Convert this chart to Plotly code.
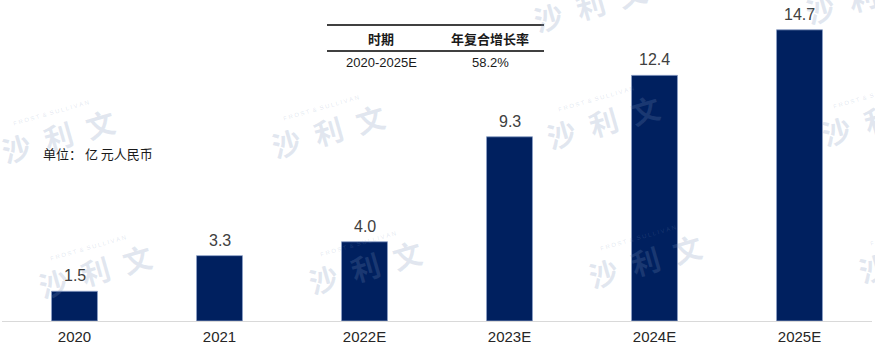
import plotly.graph_objects as go

# ---- data ----
categories = ["2020", "2021", "2022E", "2023E", "2024E", "2025E"]
values = [1.5, 3.3, 4.0, 9.3, 12.4, 14.7]
value_labels = ["1.5", "3.3", "4.0", "9.3", "12.4", "14.7"]
table_header = ["时期", "年复合增长率"]
table_row = ["2020-2025E", "58.2%"]
unit_text = "单位： 亿 元人民币"

# ---- layout constants ----
W, H = 875, 361
ML, MR, MT, MB = 2, 3, 10, 40
PW, PH = W - ML - MR, H - MT - MB
YMAX = 15.7

LATIN = "Liberation Sans, Arial, Noto Sans CJK SC, sans-serif"
CJK = "Noto Sans CJK SC, Liberation Sans, sans-serif"


def px_x(px):
    return (px - ML) / PW


def px_y(py):
    return (H - MB - py) / PH


fig = go.Figure()
fig.add_trace(go.Bar(
    x=categories, y=values,
    marker=dict(color="#00205F", line=dict(color="#8C9FC6", width=0.8)),
    width=0.317, hoverinfo="skip",
))

annotations = []
# value labels (category index positions)
for i, (v, t) in enumerate(zip(values, value_labels)):
    annotations.append(dict(
        x=i, y=v, xref="x", yref="y", text=t, showarrow=False,
        yanchor="bottom", yshift=5,
        font=dict(family=LATIN, size=16, color="#404040"),
    ))

# unit label
annotations.append(dict(
    x=px_x(41), y=px_y(153), xref="paper", yref="paper", text=unit_text,
    showarrow=False, xanchor="left", yanchor="middle",
    font=dict(family=CJK, size=13, color="#1a1a1a"),
))

# table text
col_x = [381, 490]
for cx, t in zip(col_x, table_header):
    annotations.append(dict(
        x=px_x(cx), y=px_y(39), xref="paper", yref="paper",
        text="<b>" + t + "</b>", showarrow=False,
        xanchor="center", yanchor="middle",
        font=dict(family=CJK, size=13, color="#1a1a1a"),
    ))
for cx, t in zip(col_x, table_row):
    annotations.append(dict(
        x=px_x(cx), y=px_y(63), xref="paper", yref="paper",
        text=t, showarrow=False, xanchor="center", yanchor="middle",
        font=dict(family=LATIN, size=13, color="#1a1a1a"),
    ))

# watermarks (decorative)
wm_pos = [(58, 135), (328, 130), (603, 121), (878, 118),
          (95, 270), (365, 266), (645, 260), (915, 255),
          (590, 4), (862, -4)]
wm_col = "rgba(120,145,185,0.22)"
for (wx, wy) in wm_pos:
    annotations.append(dict(
        x=px_x(wx), y=px_y(wy), xref="paper", yref="paper",
        text="<b>沙\u2002利\u2002文</b>", showarrow=False, textangle=-16,
        xanchor="center", yanchor="middle",
        font=dict(family=CJK, size=29, color=wm_col),
    ))
    annotations.append(dict(
        x=px_x(wx), y=px_y(wy), xref="paper", yref="paper",
        text="F\u00a0R\u00a0O\u00a0S\u00a0T\u00a0\u00a0&\u00a0\u00a0S\u00a0U\u00a0L\u00a0L\u00a0I\u00a0V\u00a0A\u00a0N",
        showarrow=False, textangle=-16, xshift=-7, yshift=22,
        xanchor="center", yanchor="middle",
        font=dict(family=LATIN, size=6, color=wm_col),
    ))

shapes = [
    dict(type="line", xref="paper", yref="paper",
         x0=px_x(327), x1=px_x(544), y0=px_y(25), y1=px_y(25),
         line=dict(color="#404040", width=2)),
    dict(type="line", xref="paper", yref="paper",
         x0=px_x(327), x1=px_x(544), y0=px_y(51), y1=px_y(51),
         line=dict(color="#404040", width=2)),
]

fig.update_layout(
    width=W, height=H,
    margin=dict(l=ML, r=MR, t=MT, b=MB),
    paper_bgcolor="white", plot_bgcolor="white",
    showlegend=False,
    annotations=annotations, shapes=shapes,
    xaxis=dict(
        type="category", range=[-0.5, 5.5], showgrid=False, zeroline=False,
        showline=True, linecolor="#D9D9D9", linewidth=1, ticks="",
        tickfont=dict(family=LATIN, size=15, color="#262626"),
        ticklabelstandoff=2,
    ),
    yaxis=dict(range=[0, YMAX], visible=False, showgrid=False, zeroline=False),
)

fig.write_html(
    "out.html",
    config={"displayModeBar": False},
    post_script="document.body.style.margin='0';document.body.style.overflow='hidden';",
)
